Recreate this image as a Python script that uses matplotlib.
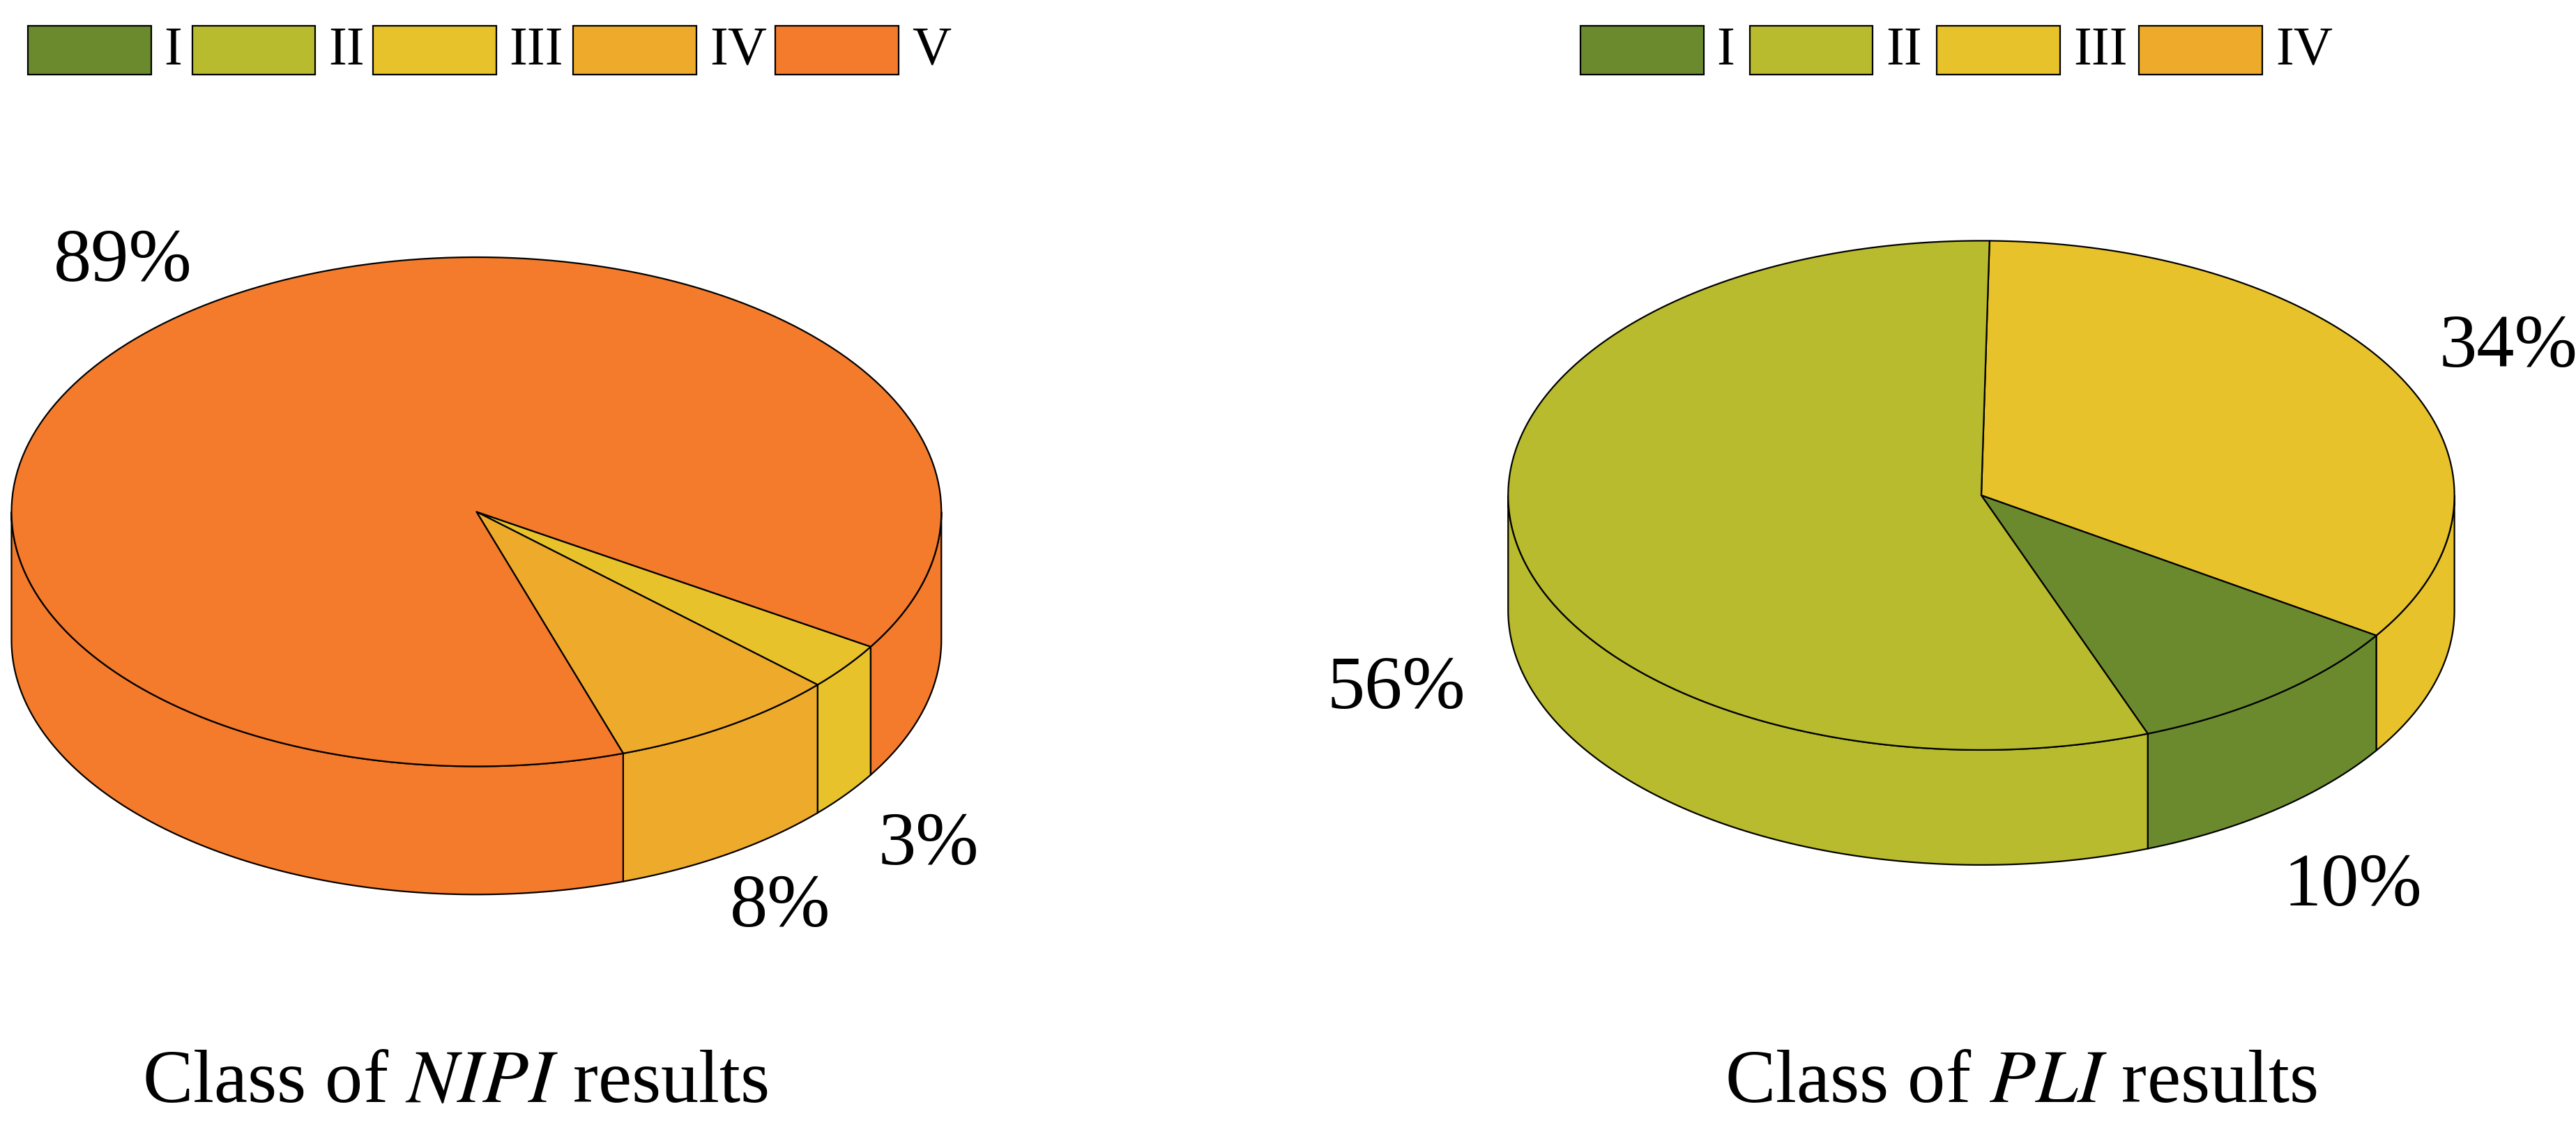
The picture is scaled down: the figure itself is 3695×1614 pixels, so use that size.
import matplotlib.pyplot as plt
import numpy as np
from matplotlib.patches import Polygon, Rectangle

plt.rcParams['font.family'] = ['Liberation Serif', 'DejaVu Serif']

# data
classes_nipi = ['I', 'II', 'III', 'IV', 'V']
nipi_vals = [0, 0, 3, 8, 89]
nipi_order = [2, 3, 4]          # clockwise drawing order
classes_pli = ['I', 'II', 'III', 'IV']
pli_vals = [10, 56, 34, 0]
pli_order = [2, 0, 1]
colors = {'I': '#6b8a2e', 'II': '#b8bb2d', 'III': '#e8c22b', 'IV': '#eeab2b', 'V': '#f47b2b'}

S = 3695 / 1568.0
fig = plt.figure(figsize=(36.95, 16.15), dpi=100)
ax = fig.add_axes([0, 0, 1, 1])
ax.set_xlim(0, 3695)
ax.set_ylim(1615, 0)
ax.axis('off')
LW = 1.6


def arc(cx, cy, rx, ry, a0, a1, n=200):
    t = np.radians(np.linspace(a0, a1, n))
    return np.column_stack([cx + rx * np.cos(t), cy - ry * np.sin(t)])


def pie3d(vals, cats, order, cx, cy, rx, ry, depth, start):
    cx, cy, rx, ry, depth = [v * S for v in (cx, cy, rx, ry, depth)]
    spans = []
    a = start
    for i in order:
        a1 = a - vals[i] * 3.6
        spans.append((cats[i], a1, a))
        a = a1
    # side walls (front half: angles in [-180, 0] mod 360)
    for c, a0, a1 in spans:
        for off in (0, -360, 360):
            lo, hi = max(a0 + off, -180), min(a1 + off, 0)
            if hi > lo:
                top = arc(cx, cy, rx, ry, lo, hi)
                bot = top[::-1] + [0, depth]
                ax.add_patch(Polygon(np.vstack([top, bot]), closed=True,
                                     facecolor=colors[c], edgecolor='black', lw=LW))
    # top face
    for c, a0, a1 in spans:
        pts = np.vstack([[cx, cy], arc(cx, cy, rx, ry, a0, a1)])
        ax.add_patch(Polygon(pts, closed=True, facecolor=colors[c],
                             edgecolor='black', lw=LW, joinstyle='round'))


pie3d(nipi_vals, classes_nipi, nipi_order, 290, 312, 283, 155, 78, -32)
pie3d(pli_vals, classes_pli, pli_order, 1206, 302, 288, 155, 70, 89)

# percentage labels
fs = 78
for txt, x, y in [('89%', 75, 160), ('3%', 565, 515), ('8%', 475, 553),
                  ('34%', 1527, 212), ('56%', 850, 420), ('10%', 1432, 540)]:
    ax.text(x * S, y * S, txt, fontsize=fs, ha='center', va='center')

# titles
ax.text(277 * S, 660 * S, 'Class of $\\mathit{NIPI}$ results', fontsize=fs,
        ha='center', va='center', math_fontfamily='stix')
ax.text(1230 * S, 660 * S, 'Class of $\\mathit{PLI}$ results', fontsize=fs,
        ha='center', va='center', math_fontfamily='stix')

# legends
for cats, xs in [(classes_nipi, [100, 200, 310, 432, 555]),
                 (classes_pli, [1045, 1148, 1262, 1385])]:
    for c, x in zip(cats, xs):
        ax.add_patch(Rectangle(((x - 83) * S, 16 * S), 75 * S, 30 * S,
                               facecolor=colors[c], edgecolor='black', lw=LW))
        ax.text(x * S, 31 * S, c, fontsize=56, ha='left', va='center')

fig.savefig('out.png', dpi=100)
